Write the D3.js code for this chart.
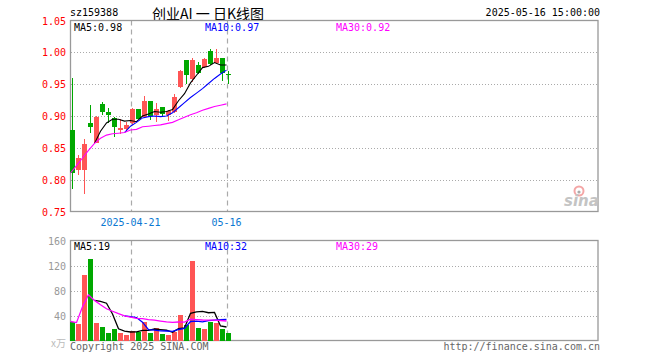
<!DOCTYPE html>
<html>
<head>
<meta charset="utf-8">
<script src="https://cdn.jsdelivr.net/npm/d3@7"></script>
<style>
  body { margin: 0; background: #fff; }
  svg text { font-family: "DejaVu Sans Mono", monospace; font-size: 10px; }
</style>
</head>
<body>
<div class="container"></div>
<script>
const width = 660;
const height = 360;

// trading days
const dates = ["2025-04-07","2025-04-08","2025-04-09","2025-04-10","2025-04-11",
  "2025-04-14","2025-04-15","2025-04-16","2025-04-17","2025-04-18",
  "2025-04-21","2025-04-22","2025-04-23","2025-04-24","2025-04-25",
  "2025-04-28","2025-04-29","2025-04-30","2025-05-06","2025-05-07",
  "2025-05-08","2025-05-09","2025-05-12","2025-05-13","2025-05-14",
  "2025-05-15","2025-05-16"];

const open  = [0.878,0.8145,0.8145,0.8895,0.857,0.919,0.906,0.8964,0.878,0.8797,0.8886,0.9105,0.899,0.923,0.9016,0.914,0.9016,0.9067,0.9458,0.9875,0.958,0.9797,0.977,1.0016,0.984,0.991,0.9667];
const high  = [0.960,0.838,0.8636,0.917,0.900,0.922,0.912,0.898,0.8948,0.891,0.912,0.911,0.931,0.923,0.920,0.914,0.910,0.934,0.9715,0.9875,0.9917,0.985,0.991,1.0047,1.0055,0.991,0.970];
const low   = [0.786,0.807,0.778,0.874,0.857,0.902,0.8886,0.8667,0.872,0.8745,0.886,0.895,0.899,0.893,0.890,0.900,0.892,0.904,0.9445,0.950,0.9536,0.966,0.976,0.9797,0.982,0.955,0.951];
const close = [0.8105,0.834,0.856,0.883,0.899,0.907,0.902,0.883,0.8817,0.8864,0.911,0.895,0.9234,0.900,0.9105,0.9027,0.908,0.930,0.9703,0.964,0.9875,0.968,0.990,0.9823,0.9917,0.968,0.9656];

const ma5  = [null,null,null,null,0.857,0.876,0.889,0.895,0.895,0.892,0.893,0.891,0.900,0.903,0.907,0.906,0.907,0.910,0.924,0.935,0.952,0.964,0.976,0.978,0.984,0.980,0.980];
const ma10 = [null,null,null,null,null,null,null,null,null,0.874,0.884,0.890,0.897,0.899,0.900,0.899,0.900,0.905,0.913,0.921,0.929,0.936,0.943,0.951,0.959,0.966,0.972];
const ma30 = [0.8105,0.822,0.834,0.846,0.857,0.865,0.870,0.872,0.873,0.874,0.878,0.879,0.883,0.884,0.885,0.886,0.888,0.890,0.894,0.898,0.902,0.905,0.909,0.912,0.915,0.917,0.919];

// volume, x万
const volume = [30.4,26.7,105,130.7,28.3,21.9,12.3,18.7,12.3,9.1,15.5,13.9,30.4,12.3,19.7,10.7,9.1,14.4,41.1,25.1,127.5,20.3,18.7,30.4,27.7,18.7,12.3];
const volMa5  = [null,null,null,null,64.2,62.5,59.6,42.4,18.7,14.9,13.6,13.9,16.2,16.2,18.4,17.4,16.4,13.2,19.0,20.1,43.4,45.7,46.5,44.4,44.9,23.2,21.6];
const volMa10 = [null,null,null,null,null,null,null,null,null,39.5,38.1,36.8,29.3,17.5,16.6,15.5,15.2,14.7,17.6,19.2,30.4,31.1,29.9,31.7,32.5,33.3,33.6];
const volMa30 = [30.4,28.6,54.0,73.2,64.2,57.2,50.8,46.8,42.9,39.5,37.4,35.4,35.0,33.4,32.5,31.1,29.8,29.0,29.6,29.4,34.1,33.4,32.8,32.7,32.5,32.0,31.2];

const priceTicks = [1.05, 1.00, 0.95, 0.90, 0.85, 0.80, 0.75];
const volTicks = [160, 120, 80, 40];
const dateTicks = ["2025-04-21", "2025-05-16"];
const dateTickLabels = ["2025-04-21", "05-16"];

const priceLegend = ["MA5:0.98", "MA10:0.97", "MA30:0.92"];
const volLegend = ["MA5:19", "MA10:32", "MA30:29"];
const maColors = ["#000000", "#0000ff", "#ff00ff"];

const up = "#ff5555";
const down = "#00a800";

// layout
const left = 70.5, right = 598;
const pTop = 20.5, pBot = 211.5;
const vTop = 240.5, vBot = 340.5;

const x = d3.scalePoint().domain(dates).range([72.5, 228.5]);
const xl = d => x(d) - 2;   // line / grid anchor sits a bit left of body centre
const y = d3.scaleLinear().domain([0.75, 1.05]).range([pBot, pTop]);
const yv = d3.scaleLinear().domain([0, 160]).range([vBot, vTop]);

const candles = dates.map((d, i) => ({
  date: d, o: open[i], h: high[i], l: low[i], c: close[i], v: volume[i]
}));
const isUp = d => d.c >= d.o;

const svg = d3.select(".container")
  .append("svg")
  .attr("width", width)
  .attr("height", height)
  .style("display", "block");

// header
svg.append("text").attr("x", 70).attr("y", 16).text("sz159388");
svg.append("text")
  .attr("x", 208).attr("y", 19)
  .attr("text-anchor", "middle")
  .style("font-family", "'Noto Sans CJK SC', sans-serif")
  .style("font-size", "14px")
  .text("创业AI 一 日K线图");
svg.append("text").attr("x", 600).attr("y", 16).attr("text-anchor", "end").text("2025-05-16 15:00:00");

function panel(top, bot, yScale, ticks, gridTicks) {
  const g = svg.append("g");
  g.selectAll(".grid")
    .data(gridTicks)
    .join("line")
      .attr("x1", left).attr("x2", right)
      .attr("y1", d => Math.round(yScale(d)) + 0.5)
      .attr("y2", d => Math.round(yScale(d)) + 0.5)
      .attr("stroke", "#aaa")
      .attr("stroke-dasharray", "1,2")
      .attr("shape-rendering", "crispEdges");
  g.selectAll(".vline")
    .data(dateTicks)
    .join("line")
      .attr("x1", d => Math.round(xl(d)) + 0.5)
      .attr("x2", d => Math.round(xl(d)) + 0.5)
      .attr("y1", top).attr("y2", bot)
      .attr("stroke", "#aaa")
      .attr("stroke-width", 1.2)
      .attr("stroke-dasharray", "5,4");
  g.append("rect")
    .attr("x", left).attr("y", top)
    .attr("width", right - left).attr("height", bot - top)
    .attr("fill", "none")
    .attr("stroke", "#999")
    .attr("stroke-width", 1.3);
  return g;
}

// price panel
panel(pTop, pBot, y, priceTicks, [1.00, 0.95, 0.90, 0.85, 0.80]);

svg.append("g")
  .selectAll("text")
  .data(priceTicks)
  .join("text")
    .attr("x", 66).attr("y", d => y(d) + 4)
    .attr("text-anchor", "end")
    .attr("fill", "#ff0000")
    .text(d3.format(".2f"));

const candle = svg.append("g").attr("shape-rendering", "crispEdges");
candle.selectAll(".wick")
  .data(candles)
  .join("rect")
    .attr("x", d => x(d.date) - 0.5)
    .attr("width", 1)
    .attr("y", d => y(d.h))
    .attr("height", d => Math.max(1, y(d.l) - y(d.h)))
    .attr("fill", d => isUp(d) ? up : down);
candle.selectAll(".body")
  .data(candles)
  .join("rect")
    .attr("x", d => x(d.date) - 2.5)
    .attr("width", 5)
    .attr("y", d => y(Math.max(d.o, d.c)))
    .attr("height", d => Math.max(1, Math.abs(y(d.o) - y(d.c))))
    .attr("fill", d => isUp(d) ? up : down);

const line = yScale => d3.line()
  .defined(d => d[1] != null)
  .x(d => xl(d[0]))
  .y(d => yScale(d[1]));

[ma5, ma10, ma30].forEach((s, k) => {
  svg.append("path")
    .datum(dates.map((d, i) => [d, s[i]]))
    .attr("fill", "none")
    .attr("stroke", maColors[k])
    .attr("stroke-width", 1.1)
    .attr("d", line(y));
});

svg.append("g")
  .selectAll("text")
  .data(priceLegend)
  .join("text")
    .attr("x", (d, i) => [74, 205, 336][i])
    .attr("y", 31)
    .attr("fill", (d, i) => maColors[i])
    .text(d => d);

// date labels
svg.append("g")
  .selectAll("text")
  .data(dateTicks)
  .join("text")
    .attr("x", d => xl(d))
    .attr("y", 226)
    .attr("text-anchor", "middle")
    .attr("fill", "#0a78d2")
    .text((d, i) => dateTickLabels[i]);

// sina watermark
const logo = svg.append("g").attr("transform", "translate(564,183)");
logo.append("circle").attr("cx", 15).attr("cy", 8).attr("r", 4.5)
  .attr("fill", "none").attr("stroke", "#f4a6a6").attr("stroke-width", 2);
logo.append("circle").attr("cx", 15).attr("cy", 9).attr("r", 1.6).attr("fill", "#aaa");
logo.append("text")
  .attr("x", 0).attr("y", 23)
  .style("font-family", "'DejaVu Sans', sans-serif")
  .style("font-size", "15px")
  .style("font-style", "italic")
  .style("font-weight", "bold")
  .attr("fill", "#c4c4c4")
  .text("sina");

// volume panel
panel(vTop, vBot, yv, volTicks, [120, 80, 40]);

svg.append("g")
  .selectAll("text")
  .data(volTicks)
  .join("text")
    .attr("x", 66).attr("y", d => yv(d) + 4)
    .attr("text-anchor", "end")
    .attr("fill", "#999")
    .text(d => d);
svg.append("text")
  .attr("x", 66).attr("y", 347)
  .attr("text-anchor", "end")
  .attr("fill", "#bbb")
  .style("font-family", "'Noto Sans CJK SC', sans-serif")
  .text("x万");

svg.append("g")
  .attr("shape-rendering", "crispEdges")
  .selectAll("rect")
  .data(candles)
  .join("rect")
    .attr("x", d => x(d.date) - 2.5)
    .attr("width", 5)
    .attr("y", d => yv(d.v))
    .attr("height", d => yv(0) - yv(d.v))
    .attr("fill", d => isUp(d) ? up : down);

[volMa5, volMa10, volMa30].forEach((s, k) => {
  svg.append("path")
    .datum(dates.map((d, i) => [d, s[i]]))
    .attr("fill", "none")
    .attr("stroke", maColors[k])
    .attr("stroke-width", 1.3)
    .attr("d", line(yv));
});

svg.append("g")
  .selectAll("text")
  .data(volLegend)
  .join("text")
    .attr("x", (d, i) => [74, 205, 336][i])
    .attr("y", 250)
    .attr("fill", (d, i) => maColors[i])
    .text(d => d);

// footer
svg.append("text").attr("x", 70).attr("y", 350).attr("fill", "#666").text("Copyright 2025 SINA.COM");
svg.append("text").attr("x", 600).attr("y", 350).attr("text-anchor", "end").attr("fill", "#666").text("http://finance.sina.com.cn");
</script>
</body>
</html>
